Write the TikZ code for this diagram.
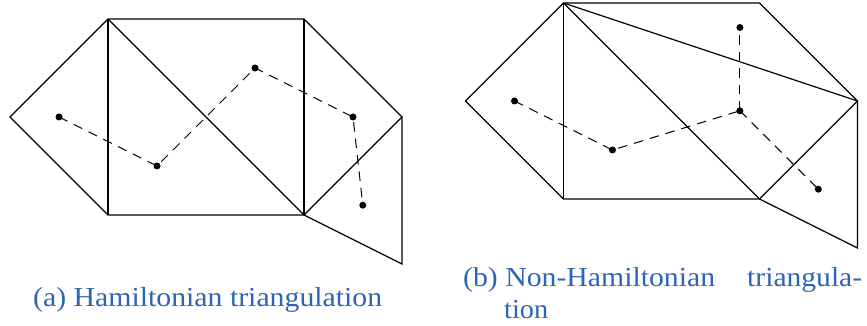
\documentclass[tikz,border=0pt]{standalone}
\usepackage{tikz}
\usepackage{fontspec}
\setmainfont{Liberation Serif}
\definecolor{capblue}{RGB}{45,100,182}
\begin{document}
\begin{tikzpicture}[x=49pt,y=49pt,
  edge/.style={line width=1.25pt, line join=miter},
  dual/.style={line width=1pt, dash pattern=on 9.5pt off 7pt},
  vtx/.style={circle, fill=black, inner sep=0pt, minimum size=7pt},
  captxt/.style={text=capblue, inner sep=0pt, font=\fontsize{27.5}{32}\selectfont}]
\useasboundingbox (-108pt,117pt) rectangle (759pt,-209pt);

% ---------- (a) ----------
\begin{scope}
\coordinate (aL) at (-2,0);
\coordinate (aTL) at (0,2);
\coordinate (aTR) at (4,2);
\coordinate (aR) at (6,0);
\coordinate (aBR) at (4,-2);
\coordinate (aBL) at (0,-2);
\coordinate (aF) at (6,-3);
\draw[edge] (aL) -- (aTL) -- (aTR) -- (aR) -- (aBR) -- (aBL) -- cycle;
\draw[edge] (aTL) -- (aBL);
\draw[edge] (aTL) -- (aBR);
\draw[edge] (aTR) -- (aBR);
\draw[edge] (aR) -- (aF) -- (aBR);
\node[vtx] (a1) at (-1,0) {};
\node[vtx] (a2) at (1,-1) {};
\node[vtx] (a3) at (3,1) {};
\node[vtx] (a4) at (5,0) {};
\node[vtx] (a5) at (5.2,-1.8) {};
\draw[dual] (a1.center) -- (a2.center) -- (a3.center) -- (a4.center) -- (a5.center);
\end{scope}

% ---------- (b) ----------
\begin{scope}[xshift=455.5pt, yshift=16pt]
\coordinate (bL) at (-2,0);
\coordinate (bTL) at (0,2);
\coordinate (bTR) at (4,2);
\coordinate (bR) at (6,0);
\coordinate (bBR) at (4,-2);
\coordinate (bBL) at (0,-2);
\coordinate (bF) at (6,-3);
\draw[edge] (bL) -- (bTL) -- (bTR) -- (bR) -- (bBR) -- (bBL) -- cycle;
\draw[edge] (bTL) -- (bBL);
\draw[edge] (bTL) -- (bBR);
\draw[edge] (bTL) -- (bR);
\draw[edge] (bR) -- (bF) -- (bBR);
\node[vtx] (b1) at (-1,0) {};
\node[vtx] (b2) at (1,-1) {};
\node[vtx] (b3) at (3.6,-0.2) {};
\node[vtx] (b4) at (3.6,1.5) {};
\node[vtx] (b5) at (5.2,-1.8) {};
\draw[dual] (b1.center) -- (b2.center) -- (b3.center);
\draw[dual] (b3.center) -- (b4.center);
\draw[dual] (b3.center) -- (b5.center);
\end{scope}

% ---------- captions ----------
\node[captxt, anchor=base west] (capa) at (-75pt,-189.7pt)
  {\resizebox{349pt}{\height}{(a) Hamiltonian triangulation}};
\node[captxt, anchor=base west] (capb1) at (355pt,-169pt)
  {\makebox[399pt][s]{\resizebox{252pt}{\height}{(b) Non-Hamiltonian}\hfill\resizebox{115pt}{\height}{triangula-}}};
\node[captxt, anchor=base west] (capb2) at (396pt,-201.7pt)
  {\resizebox{44pt}{\height}{tion}};
\end{tikzpicture}
\end{document}
